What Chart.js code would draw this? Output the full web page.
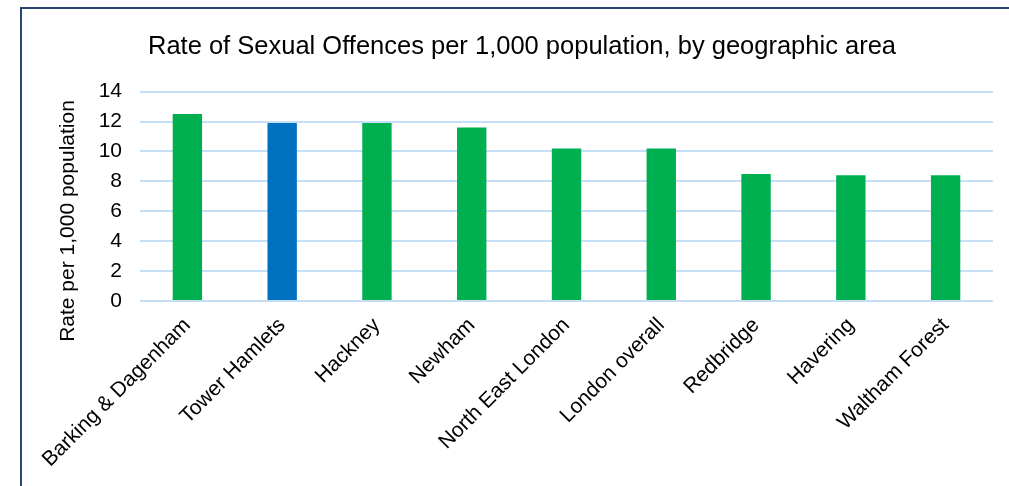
<!DOCTYPE html>
<html>
<head>
<meta charset="utf-8">
<script src="https://cdn.jsdelivr.net/npm/chart.js@4"></script>
<style>
  html, body { margin: 0; padding: 0; background: #fff; overflow: hidden; }
  #box {
    position: absolute; left: 20px; top: 7px;
    width: 1000px; height: 520px;
    border-top: 2px solid #2A4670; border-left: 2px solid #2A4670;
    background: #fff;
  }
</style>
</head>
<body>
<div id="box"><canvas id="myChart" width="1000" height="520"></canvas></div>
<script>
const areas = ['Barking & Dagenham', 'Tower Hamlets', 'Hackney', 'Newham', 'North East London',
               'London overall', 'Redbridge', 'Havering', 'Waltham Forest'];
const rates = [12.5, 11.9, 11.9, 11.6, 10.2, 10.2, 8.5, 8.4, 8.4];
const barColours = ['#00B050', '#0070C0', '#00B050', '#00B050', '#00B050',
                    '#00B050', '#00B050', '#00B050', '#00B050'];
const yTicks = [0, 2, 4, 6, 8, 10, 12, 14];

const fontName = '"Liberation Sans", Arial, sans-serif';

// y axis title drawn by hand so it sits where the original has it
const axisTitle = {
  id: 'axisTitle',
  afterDraw(chart) {
    const c = chart.ctx;
    c.save();
    c.translate(46, 212);
    c.rotate(-Math.PI / 2);
    c.font = '21px ' + fontName;
    c.fillStyle = '#000';
    c.textAlign = 'center';
    c.textBaseline = 'middle';
    c.fillText('Rate per 1,000 population', 0, 0);
    c.restore();
  }
};

new Chart(document.getElementById('myChart'), {
  type: 'bar',
  data: {
    labels: areas,
    datasets: [{
      data: rates,
      backgroundColor: barColours,
      barPercentage: 0.31,
      categoryPercentage: 1
    }]
  },
  options: {
    responsive: false,
    animation: false,
    layout: { padding: { left: 29, right: 29, top: 0, bottom: 53 } },
    plugins: {
      legend: { display: false },
      tooltip: { enabled: false },
      title: {
        display: true,
        text: 'Rate of Sexual Offences per 1,000 population, by geographic area',
        color: '#000',
        font: { family: fontName, size: 25.5, weight: 'normal' },
        padding: { top: 23, bottom: 29 }
      }
    },
    scales: {
      x: {
        grid: { display: false },
        border: { display: false },
        ticks: {
          color: '#000',
          font: { family: fontName, size: 21 },
          maxRotation: 45, minRotation: 45,
          padding: 4
        }
      },
      y: {
        min: 0, max: 14,
        afterBuildTicks(axis) { axis.ticks = yTicks.map(v => ({ value: v })); },
        afterFit(axis) { axis.width = 89; },
        grid: { color: '#C5DFF8', lineWidth: 2, drawTicks: false },
        border: { display: false },
        ticks: {
          color: '#000',
          font: { family: fontName, size: 21 },
          padding: 18
        }
      }
    }
  },
  plugins: [axisTitle]
});
</script>
</body>
</html>
